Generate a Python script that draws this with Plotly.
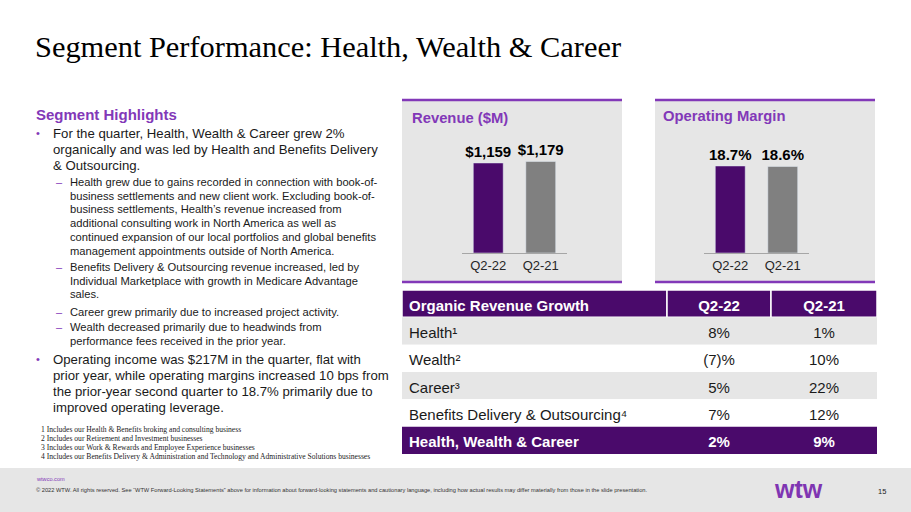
import plotly.graph_objects as go

############
# SETTINGS #
############
W, H = 911, 512
purple = "#8238B8"      # light WTW purple (titles, bullets, rules)
dark_purple = "#4A0A6B" # bars and table header
grey_bar = "#808080"
panel_grey = "#E6E6E6"
sans = "Arial, Liberation Sans, DejaVu Sans, sans-serif"
serif = "Times New Roman, Liberation Serif, serif"

########
# DATA #
########
quarters = ["Q2-22", "Q2-21"]
revenue = [1159, 1179]          # $M
op_margin = [18.7, 18.6]        # %

table_header = ["Organic Revenue Growth", "Q2-22", "Q2-21"]
segments = ["Health", "Wealth", "Career", "Benefits Delivery & Outsourcing", "Health, Wealth & Career"]
footnote_refs = ["¹", "²", "³", "⁴", ""]
growth_q2_22 = [8, -7, 5, 7, 2]
growth_q2_21 = [1, 10, 22, 12, 9]


# pixel -> paper helpers
def px(x):
    return x / W


def py(y):
    return 1 - y / H


def pct(v):
    return f"({abs(v)})%" if v < 0 else f"{v}%"


fig = go.Figure()

# REVENUE BARS
fig.add_trace(go.Bar(x=quarters, y=revenue, marker_color=[dark_purple, grey_bar],
                     text=[f"<b>${v:,}</b>" for v in revenue], textposition="outside",
                     constraintext="none",
                     textfont=dict(size=15, color="black", family=sans), cliponaxis=False,
                     xaxis="x", yaxis="y", showlegend=False, hoverinfo="skip"))
# OPERATING MARGIN BARS
fig.add_trace(go.Bar(x=quarters, y=op_margin, marker_color=[dark_purple, grey_bar],
                     text=[f"<b>{v}%</b>" for v in op_margin], textposition="outside",
                     constraintext="none",
                     textfont=dict(size=15, color="black", family=sans), cliponaxis=False,
                     xaxis="x2", yaxis="y2", showlegend=False, hoverinfo="skip"))

# TABLE: drawn on its own axes (x in px-like units, one y unit per row, header = row 0)
col_edges = [0, 265, 369, 475]
n = len(segments)
rows = list(range(n + 1))
row_y = [r + 0.62 for r in rows]  # text sits a touch below the row middle
row_fill = [dark_purple] + [panel_grey if i % 2 == 0 else "white" for i in range(n - 1)] + [dark_purple]
row_font = ["white"] + ["#1A1A1A"] * (n - 1) + ["white"]
bold_row = [True] + [False] * (n - 1) + [True]

col_texts = [
    [table_header[0]] + [s + r for s, r in zip(segments, footnote_refs)],
    [table_header[1]] + [pct(v) for v in growth_q2_22],
    [table_header[2]] + [pct(v) for v in growth_q2_21],
]
for c, texts in enumerate(col_texts):
    texts = [f"<b>{t}</b>" if b else t for t, b in zip(texts, bold_row)]
    if c == 0:
        xs, pos = [col_edges[0] + 7] * len(rows), "middle right"
    else:
        xs, pos = [(col_edges[c] + col_edges[c + 1]) / 2] * len(rows), "middle center"
    fig.add_trace(go.Scatter(x=xs, y=row_y, mode="text", text=texts, textposition=pos,
                             textfont=dict(size=15, color=row_font, family=sans),
                             xaxis="x3", yaxis="y3", cliponaxis=False,
                             showlegend=False, hoverinfo="skip"))

shapes = []
# table cells: header split in three, body rows full width
for c in range(3):
    shapes.append(dict(type="rect", xref="x3", yref="y3", x0=col_edges[c], x1=col_edges[c + 1],
                       y0=0, y1=1, fillcolor=row_fill[0], line=dict(color="white", width=1.5),
                       layer="below"))
for r in rows[1:]:
    shapes.append(dict(type="rect", xref="x3", yref="y3", x0=col_edges[0], x1=col_edges[-1],
                       y0=r, y1=r + 1, fillcolor=row_fill[r], line_width=0, layer="below"))

# chart panels: grey box with purple rule on top and bottom
for x0, x1 in [(402, 622), (655, 875)]:
    shapes.append(dict(type="rect", xref="paper", yref="paper", x0=px(x0), x1=px(x1),
                       y0=py(282), y1=py(100), fillcolor=panel_grey, line_width=0, layer="below"))
    for yy in (100, 282):
        shapes.append(dict(type="line", xref="paper", yref="paper", x0=px(x0), x1=px(x1),
                           y0=py(yy), y1=py(yy), line=dict(color=purple, width=2.5)))
# footer band
shapes.append(dict(type="rect", xref="paper", yref="paper", x0=0, x1=1, y0=0, y1=py(468),
                   fillcolor=panel_grey, line_width=0, layer="below"))

annotations = []


def txt(x, y, text, size, color="#1A1A1A", family=sans, anchor="left"):
    annotations.append(dict(x=px(x), y=py(y), xref="paper", yref="paper", text=text,
                            showarrow=False, xanchor=anchor, yanchor="middle",
                            font=dict(size=size, color=color, family=family)))


# TITLE
txt(33, 47, "Segment Performance: Health, Wealth & Career", 30.4, "black", serif)

# PANEL TITLES
txt(410, 118, "<b>Revenue ($M)</b>", 14.8, purple)
txt(661, 116, "<b>Operating Margin</b>", 14.8, purple)

# LEFT TEXT BLOCK
txt(34, 114, "<b>Segment Highlights</b>", 15, purple)
main_lines = [
    (133, "For the quarter, Health, Wealth & Career grew 2%", True),
    (149, "organically and was led by Health and Benefits Delivery", False),
    (165, "& Outsourcing.", False),
    (359, "Operating income was $217M in the quarter, flat with", True),
    (375, "prior year, while operating margins increased 10 bps from", False),
    (391, "the prior-year second quarter to 18.7% primarily due to", False),
    (407, "improved operating leverage.", False),
]
for y, line, bullet in main_lines:
    txt(51, y, line, 13.2)
    if bullet:
        txt(34, y, "•", 11, purple)

sub_lines = [
    (182, "Health grew due to gains recorded in connection with book-of-", True),
    (196, "business settlements and new client work. Excluding book-of-", False),
    (209, "business settlements, Health’s revenue increased from", False),
    (223, "additional consulting work in North America as well as", False),
    (237, "continued expansion of our local portfolios and global benefits", False),
    (251, "management appointments outside of North America.", False),
    (267, "Benefits Delivery & Outsourcing revenue increased, led by", True),
    (281, "Individual Marketplace with growth in Medicare Advantage", False),
    (294, "sales.", False),
    (312, "Career grew primarily due to increased project activity.", True),
    (327, "Wealth decreased primarily due to headwinds from", True),
    (341, "performance fees received in the prior year.", False),
]
for y, line, dash in sub_lines:
    txt(68, y, line, 11.2)
    if dash:
        txt(54, y, "–", 11, purple)

footnotes = [
    "1 Includes our Health & Benefits broking and consulting business",
    "2 Includes our Retirement and Investment businesses",
    "3 Includes our Work & Rewards and Employee Experience businesses",
    "4 Includes our Benefits Delivery & Administration and Technology and Administrative Solutions businesses",
]
for i, line in enumerate(footnotes):
    txt(39, 429 + i * 9.3, line, 7.6, "#222222", serif)

# FOOTER
txt(34, 479, "wtwco.com", 5.6, purple)
txt(34, 490, "© 2022 WTW. All rights reserved. See “WTW Forward-Looking Statements” above for information about "
             "forward-looking statements and cautionary language, including how actual results may differ materially "
             "from those in the slide presentation.", 5.7, "#333333")
txt(798, 489, "<b>wtw</b>", 25, "#7F35B2", anchor="center")
txt(882, 491, "15", 7.5, "#222222", anchor="center")

axis_common = dict(showgrid=False, zeroline=False, fixedrange=True)
fig.update_layout(
    width=W, height=H,
    margin=dict(l=0, r=0, t=0, b=0),
    paper_bgcolor="white", plot_bgcolor="rgba(0,0,0,0)",
    font=dict(family=sans),
    bargap=0.43,
    xaxis=dict(domain=[px(462), px(567)], anchor="y", showline=True, linecolor="#A6A6A6", linewidth=1,
               ticks="", tickfont=dict(size=13, color="#262626"), **axis_common),
    yaxis=dict(domain=[py(253), py(136.5)], anchor="x", range=[0, 1500], visible=False, **axis_common),
    xaxis2=dict(domain=[px(704), px(809)], anchor="y2", showline=True, linecolor="#A6A6A6", linewidth=1,
                ticks="", tickfont=dict(size=13, color="#262626"), **axis_common),
    yaxis2=dict(domain=[py(253), py(141.3)], anchor="x2", range=[0, 24], visible=False, **axis_common),
    xaxis3=dict(domain=[px(402), px(877)], anchor="y3", range=[col_edges[0], col_edges[-1]],
                visible=False, **axis_common),
    yaxis3=dict(domain=[py(454), py(290)], anchor="x3", range=[n + 1, 0], visible=False, **axis_common),
    shapes=shapes,
    annotations=annotations,
)

# page body has a default 8px margin; drop it so the slide sits at the window corner
fig.write_html("out.html", config={"displayModeBar": False},
               post_script="document.body.style.margin='0';")
